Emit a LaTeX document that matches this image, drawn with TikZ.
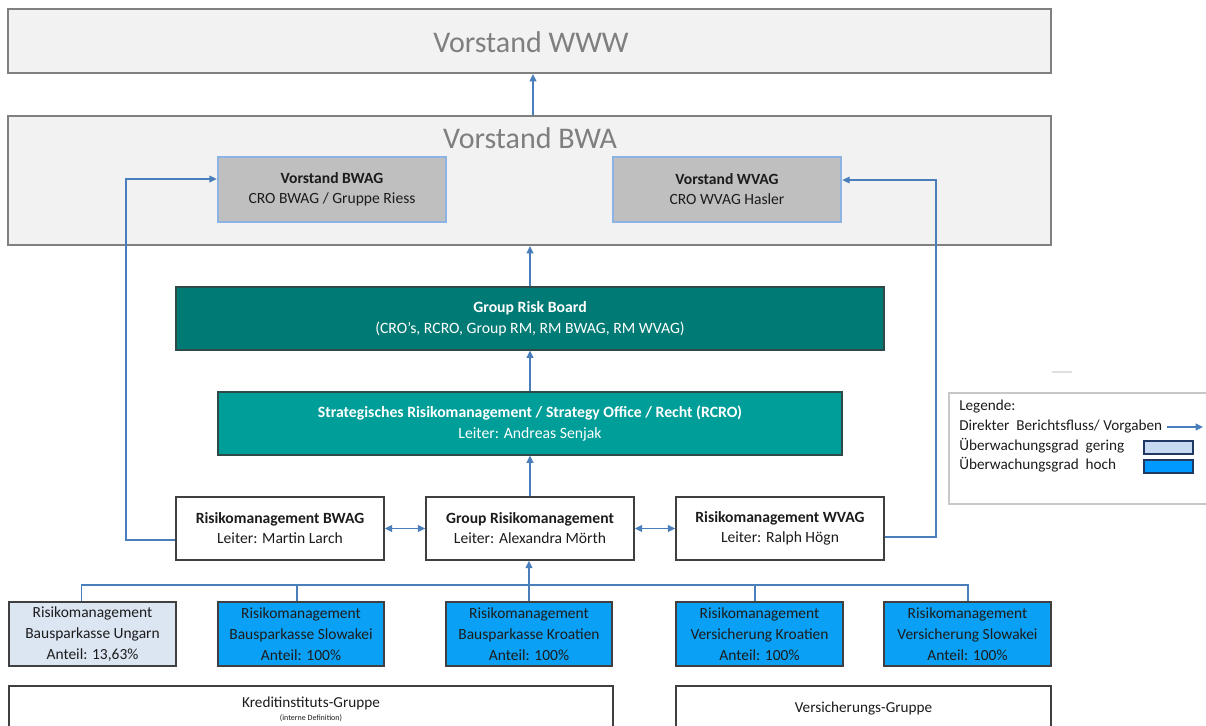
\documentclass[tikz,border=0pt]{standalone}
\usepackage{fontspec}
\setmainfont{Carlito}
\usetikzlibrary{arrows.meta}
\definecolor{bigfill}{HTML}{F2F2F2}
\definecolor{bigdraw}{HTML}{808080}
\definecolor{titlegray}{HTML}{7F7F7F}
\definecolor{vfill}{HTML}{BFBFBF}
\definecolor{vdraw}{HTML}{8DB3E2}
\definecolor{tealdark}{HTML}{007A74}
\definecolor{teallight}{HTML}{009E98}
\definecolor{tealedge}{HTML}{2E4A48}
\definecolor{rmdraw}{HTML}{404040}
\definecolor{bluefill}{HTML}{0AA0F5}
\definecolor{lightfill}{HTML}{DCE6F2}
\definecolor{arrowblue}{HTML}{4A7EBB}
\definecolor{txt}{HTML}{1C1C1C}
\definecolor{legdraw}{HTML}{C8C8C8}
\definecolor{legblue}{HTML}{1F3864}
\definecolor{leglight}{HTML}{C6D9F1}
\definecolor{legfill}{HTML}{0099FF}
\begin{document}
\begin{tikzpicture}[x=0.75pt,y=-0.75pt,
  bigbox/.style={draw=bigdraw,fill=bigfill,line width=1.5pt,inner sep=0pt,minimum width=782.25pt},
  titletext/.style={text=titlegray,font=\fontsize{22.5pt}{26pt}\selectfont,inner sep=0pt},
  vbox/.style={draw=vdraw,fill=vfill,line width=2pt,inner sep=0pt,minimum width=171pt,minimum height=48.75pt,align=center,text=txt,font=\fontsize{11.7pt}{15pt}\selectfont},
  tealbox/.style={draw=tealedge,line width=0.8pt,inner sep=0pt,minimum height=47.25pt,align=center,text=white,font=\fontsize{11.8pt}{15.5pt}\selectfont},
  rmbox/.style={draw=rmdraw,fill=white,line width=1.1pt,inner sep=0pt,minimum width=156pt,minimum height=47.25pt,align=center,text=txt,font=\fontsize{11.7pt}{15pt}\selectfont},
  subbox/.style={draw=rmdraw,line width=1.1pt,inner sep=0pt,minimum width=125pt,minimum height=48pt,align=center,text=txt,font=\fontsize{11.6pt}{15.75pt}\selectfont},
  groupbox/.style={draw=rmdraw,fill=white,line width=1.1pt,inner sep=0pt,minimum height=40.5pt},
  plain/.style={inner sep=0pt,text=txt,font=\fontsize{11.4pt}{15pt}\selectfont},
  legtext/.style={inner sep=0pt,anchor=west,text=txt,font=\fontsize{11.4pt}{14pt}\selectfont},
  legrect/.style={draw=legblue,line width=1.5pt,inner sep=0pt,minimum width=36.75pt,minimum height=9.75pt},
  conn/.style={draw=arrowblue,line width=1.2pt},
  arr/.style={conn,-{Triangle[length=5.5pt,width=5pt]}},
  darr/.style={conn,{Triangle[length=5.5pt,width=5pt]}-{Triangle[length=5.5pt,width=5pt]}}
]
\useasboundingbox (0,0) rectangle (1206,725);
\clip (0,0) rectangle (1206,725);
\fill[white] (0,0) rectangle (1206,725);

% Vorstand boxes
\node[bigbox,minimum height=48pt] (www) at (529.5,41) {};
\node[titletext] (wwwtitle) at (531,42) {Vorstand WWW};
\node[bigbox,minimum height=96.75pt] (bwa) at (529.5,180.5) {};
\node[titletext] (bwatitle) at (530,138) {Vorstand BWA};

\node[vbox] (bwag) at (332,189.5) {\textbf{Vorstand BWAG}\\CRO BWAG / Gruppe Riess};
\node[vbox] (wvag) at (727,189.5) {\textbf{Vorstand WVAG}\\CRO WVAG Hasler};

% Teal boxes
\node[tealbox,fill=tealdark,minimum width=531pt] (grb) at (530,318.5) {\textbf{Group Risk Board}\\(CRO’s, RCRO, Group RM, RM BWAG, RM WVAG)};
\node[tealbox,fill=teallight,minimum width=468pt] (strat) at (530,423.5) {\textbf{Strategisches Risikomanagement / Strategy Office / Recht (RCRO)}\\Leiter: Andreas Senjak};

% RM boxes
\node[rmbox] (rmb) at (280,528.5) {\textbf{Risikomanagement BWAG}\\Leiter: Martin Larch};
\node[rmbox] (grm) at (530,528.5) {\textbf{Group Risikomanagement}\\Leiter: Alexandra Mörth};
\node[rmbox] (rmw) at (780,528.5) {\textbf{Risikomanagement WVAG}\\Leiter: Ralph Högn};

% Subsidiary boxes
\node[subbox,fill=lightfill,minimum width=125.25pt] (ung) at (92.5,634) {Risikomanagement\\Bausparkasse Ungarn\\Anteil: 13,63\%};
\node[subbox,fill=bluefill,minimum width=124.5pt] (bsk) at (301,634) {Risikomanagement\\Bausparkasse Slowakei\\Anteil: 100\%};
\node[subbox,fill=bluefill,minimum width=124.5pt] (bkr) at (529,634) {Risikomanagement\\Bausparkasse Kroatien\\Anteil: 100\%};
\node[subbox,fill=bluefill,minimum width=125.25pt] (vkr) at (759.5,634) {Risikomanagement\\Versicherung Kroatien\\Anteil: 100\%};
\node[subbox,fill=bluefill,minimum width=125.25pt] (vsk) at (967.5,634) {Risikomanagement\\Versicherung Slowakei\\Anteil: 100\%};

% Group boxes (cut off at bottom)
\node[groupbox,minimum width=453pt] (kig) at (311,713) {};
\node[plain] (kigtext) at (311,703) {Kreditinstituts-Gruppe};
\node[plain,font=\fontsize{6pt}{7pt}\selectfont] (kigsub) at (311,718) {(interne Definition)};
\node[groupbox,minimum width=281.25pt] (vg) at (863.5,713) {};
\node[plain] (vgtext) at (863.5,709) {Versicherungs-Gruppe};

% Vertical arrows
\draw[arr] ([xshift=2.625pt]bwa.north) -- ([xshift=2.625pt]www.south);
\draw[arr] (grb.north) -- (grb.north |- bwa.south);
\draw[arr] (strat.north) -- (grb.south);
\draw[arr] (grm.north) -- (strat.south);
\draw[darr] (rmb.east) -- (grm.west);
\draw[darr] (grm.east) -- (rmw.west);

% Side connectors
\draw[arr] ([yshift=-8.625pt]rmb.west) -- ++(-49,0) |- ([yshift=7.875pt]bwag.west);
\draw[arr] ([yshift=-6.375pt]rmw.east) -- ++(51,0) |- ([yshift=7.125pt]wvag.east);

% Bus
\draw[conn] ([xshift=-8.25pt]ung.north) -- ++(0,-16) -| ([xshift=0.375pt]vsk.north);
\draw[conn] ([xshift=-3pt]bsk.north) -- ++(0,-16);
\draw[conn] ([xshift=-3.375pt]vkr.north) -- ++(0,-16);
\draw[arr] (bkr.north) -- (bkr.north |- grm.south);

% Legend
\draw[gray!25,line width=1pt] (1052,372) -- (1072,372);
\node[draw=legdraw,line width=0.8pt,inner sep=0pt,minimum width=199.5pt,minimum height=83.25pt] (legend) at (1082,448.5) {};
\node[legtext] (l1) at (959,407) {Legende:};
\node[legtext] (l2) at (959,427) {Direkter\ \ Berichtsfluss/ Vorgaben};
\node[legtext] (l3) at (959,446) {Überwachungsgrad\ \ gering};
\node[legtext] (l4) at (959,465) {Überwachungsgrad\ \ hoch};
\coordinate (la1) at (1167,427);
\coordinate (la2) at (1203,427);
\draw[arr] (la1) -- (la2);
\node[legrect,fill=leglight] (lg1) at (1168.5,447.5) {};
\node[legrect,fill=legfill] (lg2) at (1168.5,466.5) {};
\end{tikzpicture}
\end{document}
